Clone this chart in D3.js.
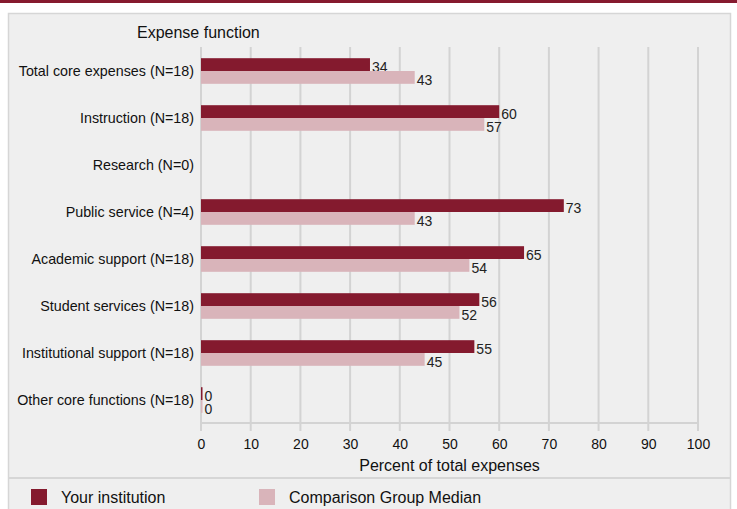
<!DOCTYPE html>
<html><head><meta charset="utf-8">
<script src="https://cdn.jsdelivr.net/npm/d3@7"></script>
<style>
html,body{margin:0;padding:0;background:#fff;}
svg{display:block;font-family:"Liberation Sans",Arial,sans-serif;}
</style></head>
<body>
<svg id="c" width="737" height="509"></svg>
<script>
const categories = ["Total core expenses (N=18)","Instruction (N=18)","Research (N=0)","Public service (N=4)","Academic support (N=18)","Student services (N=18)","Institutional support (N=18)","Other core functions (N=18)"];
const yourInstitution = [34,60,null,73,65,56,55,0];
const groupMedian = [43,57,null,43,54,52,45,0];
const xTicks = [0,10,20,30,40,50,60,70,80,90,100];
const seriesNames = ["Your institution","Comparison Group Median"];
const seriesColors = ["#841a2e","#d9b4ba"];

const svg = d3.select("#c");
// top band
svg.append("rect").attr("x",0).attr("y",0).attr("width",737).attr("height",3).attr("fill","#861a2f");
// panel
svg.append("rect").attr("x",8.5).attr("y",13.5).attr("width",722).attr("height",500)
  .attr("fill","#efefef").attr("stroke","#d6d6d6").attr("stroke-width",1.5);
svg.append("line").attr("x1",8.5).attr("x2",730.5).attr("y1",478).attr("y2",478)
  .attr("stroke","#d6d6d6").attr("stroke-width",2);

const x = d3.scaleLinear().domain([0,100]).range([201,698]);
const y = d3.scaleBand().domain(categories).range([47.5,423.5]);

// grid
const grid = svg.append("g");
grid.selectAll("line").data(xTicks).join("line")
  .attr("x1",d=>x(d)).attr("x2",d=>x(d)).attr("y1",47).attr("y2",431)
  .attr("stroke","#d3d3d3").attr("stroke-width",2);
grid.append("line").attr("x1",x(0)).attr("x2",x(100)).attr("y1",423).attr("y2",423)
  .attr("stroke","#d3d3d3").attr("stroke-width",2);

// x axis labels
const xAxis = d3.axisBottom(x).tickValues(xTicks).tickSize(0).tickPadding(0);
const gx = svg.append("g").attr("transform","translate(0,439)").call(xAxis);
gx.select(".domain").remove();
gx.selectAll("text").attr("fill","#111").style("font-size","14px").style("font-family","Liberation Sans, Arial, sans-serif");

// y axis labels
const yAxis = d3.axisLeft(y).tickSize(0).tickPadding(7);
const gy = svg.append("g").attr("transform","translate(201,0.5)").call(yAxis);
gy.select(".domain").remove();
gy.selectAll("text").attr("fill","#111").style("font-size","14.3px").style("font-family","Liberation Sans, Arial, sans-serif");

// titles
svg.append("text").attr("x",137).attr("y",38).text("Expense function").attr("fill","#111").style("font-size","16px");
svg.append("text").attr("x",x(50)).attr("y",471).attr("text-anchor","middle").text("Percent of total expenses").attr("fill","#111").style("font-size","16px");

// bars
const barH = 12.8;
const series = [yourInstitution, groupMedian];
series.forEach((vals,si)=>{
  const g = svg.append("g");
  const data = categories.map((c,i)=>({c, v: vals[i]})).filter(d=>d.v!==null);
  g.selectAll("rect").data(data).join("rect")
    .attr("x",x(0))
    .attr("y",d=>y(d.c)+y.bandwidth()/2 - barH + si*barH)
    .attr("width",d=>Math.max(x(d.v)-x(0),1.5))
    .attr("height",barH)
    .attr("fill",seriesColors[si]);
  g.selectAll("text").data(data).join("text")
    .attr("x",d=>Math.max(x(d.v),x(0)+1.5)+2)
    .attr("y",d=>y(d.c)+y.bandwidth()/2 - barH + si*barH + barH/2 + 7.5)
    .text(d=>d.v)
    .attr("fill","#222").style("font-size","14px");
});

// legend
const leg = svg.append("g");
const legX = [31,259];
seriesNames.forEach((n,i)=>{
  leg.append("rect").attr("x",legX[i]).attr("y",489).attr("width",16).attr("height",16).attr("fill",seriesColors[i]);
  leg.append("text").attr("x",legX[i]+30).attr("y",503).text(n).attr("fill","#111").style("font-size","16px");
});
</script>
</body></html>
